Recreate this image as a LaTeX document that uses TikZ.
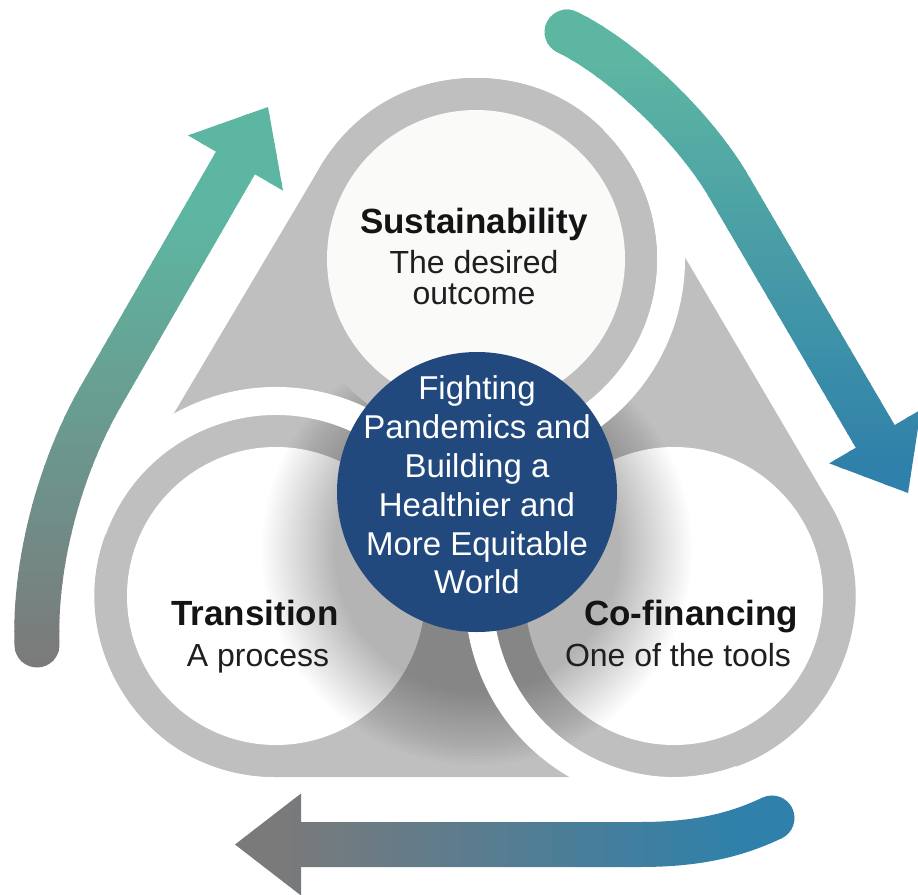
\documentclass[tikz,border=0pt]{standalone}
\usepackage{fontspec}
\setmainfont{Liberation Sans}
\definecolor{ringgray}{RGB}{191,191,191}
\definecolor{navy}{RGB}{33,73,125}
\definecolor{arrteal}{RGB}{93,182,162}
\definecolor{arrblue}{RGB}{47,128,170}
\definecolor{arrgray}{RGB}{122,122,122}
\definecolor{topinner}{RGB}{250,250,248}
\def\LeftShaft{(37,645) .. controls (34,560) and (61.5,464) .. (101.5,395) -- (236,162)}
\def\LeftHead{(268,107) -- (283,190.6) -- (188,135.4) -- cycle}
\def\RightShaft{(567,32) .. controls (621,58) and (693,125.5) .. (728.5,186) -- (875,436)}
\def\RightHead{(908,493) -- (829.2,463.3) -- (920.8,409.7) -- cycle}
\def\BottomShaft{(301,844.5) -- (640,844.5) .. controls (700,844.5) and (738,834) .. (772,818)}
\def\BottomHead{(235,844.5) -- (301,793.5) -- (301,895.5) -- cycle}
\begin{document}
\begin{tikzpicture}[x=1pt,y=-1pt,
  ttl/.style={anchor=base, text=black!92, font=\fontsize{35}{40}\selectfont\bfseries},
  sub/.style={anchor=base, text=black!88, font=\fontsize{32}{37}\selectfont},
  ctr/.style={anchor=base, text=white, font=\fontsize{33}{38}\selectfont},
  band/.style={white, line width=28pt},
  shaft/.style={line width=45pt, line cap=round}]
\useasboundingbox (0,0) rectangle (918,894);
\coordinate (T) at (476,259);
\coordinate (L) at (276,596);
\coordinate (R) at (674,596);
\coordinate (B) at (477,492);
% hull
\filldraw[ringgray, line width=362pt, line join=round] (T) -- (L) -- (R) -- cycle;
% lower rings
\fill[ringgray] (L) circle (181);
\fill[ringgray] (R) circle (181);
\fill[white] (L) circle (149);
\fill[white] (R) circle (149);
% soft shadow of the centre disc (stacked translucent discs)
\foreach \k in {0,...,24}{
  \pgfmathsetmacro{\rr}{215-\k*3}
  \fill[black, opacity=0.012] (477,550) circle (\rr);
}
% white separating bands
\draw[band] (T) ++(-45:195) arc[start angle=-45, end angle=110, radius=195];
\draw[band] (L) ++(-160:195) arc[start angle=-160, end angle=-20, radius=195];
\draw[band] (R) ++(70:195) arc[start angle=70, end angle=215, radius=195];
% top ring
\fill[ringgray] (T) circle (181);
\fill[topinner] (T) circle (149);
% centre disc
\fill[navy] (B) circle (140);
% texts
\node[ttl] (s1) at (474,233) {Sustainability};
\node[sub] (s2) at (474,273) {The desired};
\node[sub] (s3) at (474,304) {outcome};
\node[ttl] (t1) at (255,625) {Transition};
\node[sub] (t2) at (258,666) {A process};
\node[ttl] (c1) at (691,625) {Co-financing};
\node[sub] (c2) at (678,666) {One of the tools};
\node[ctr] (b1) at (477,399) {Fighting};
\node[ctr] (b2) at (477,438) {Pandemics and};
\node[ctr] (b3) at (477,477) {Building a};
\node[ctr] (b4) at (477,516) {Healthier and};
\node[ctr] (b5) at (477,555) {More Equitable};
\node[ctr] (b6) at (477,593) {World};
% left arrow (grey bottom -> teal top)
\foreach \i in {0,...,59}{
  \pgfmathsetmacro{\bya}{95+\i*9.75}
  \pgfmathsetmacro{\byb}{\bya+10.25}
  \pgfmathsetmacro{\gfrac}{min(100,max(0,(\bya+4.9-220)/440*100))}
  \begin{scope}
    \clip (0,\bya) rectangle (918,\byb);
    \draw[shaft, arrgray!\gfrac!arrteal] \LeftShaft;
    \fill[arrgray!\gfrac!arrteal] \LeftHead;
  \end{scope}
}
% right arrow (teal top -> blue bottom)
\foreach \i in {0,...,59}{
  \pgfmathsetmacro{\bya}{0+\i*8.5}
  \pgfmathsetmacro{\byb}{\bya+9}
  \pgfmathsetmacro{\gfrac}{min(100,max(0,(\bya+4.25-60)/410*100))}
  \begin{scope}
    \clip (0,\bya) rectangle (918,\byb);
    \draw[shaft, arrblue!\gfrac!arrteal] \RightShaft;
    \fill[arrblue!\gfrac!arrteal] \RightHead;
  \end{scope}
}
% bottom arrow (grey left -> blue right)
\foreach \i in {0,...,59}{
  \pgfmathsetmacro{\bxa}{225+\i*9.75}
  \pgfmathsetmacro{\bxb}{\bxa+10.25}
  \pgfmathsetmacro{\gfrac}{min(100,max(0,(\bxa+4.9-280)/460*100))}
  \begin{scope}
    \clip (\bxa,700) rectangle (\bxb,894);
    \draw[shaft, arrblue!\gfrac!arrgray] \BottomShaft;
    \fill[arrblue!\gfrac!arrgray] \BottomHead;
  \end{scope}
}
\end{tikzpicture}
\end{document}
